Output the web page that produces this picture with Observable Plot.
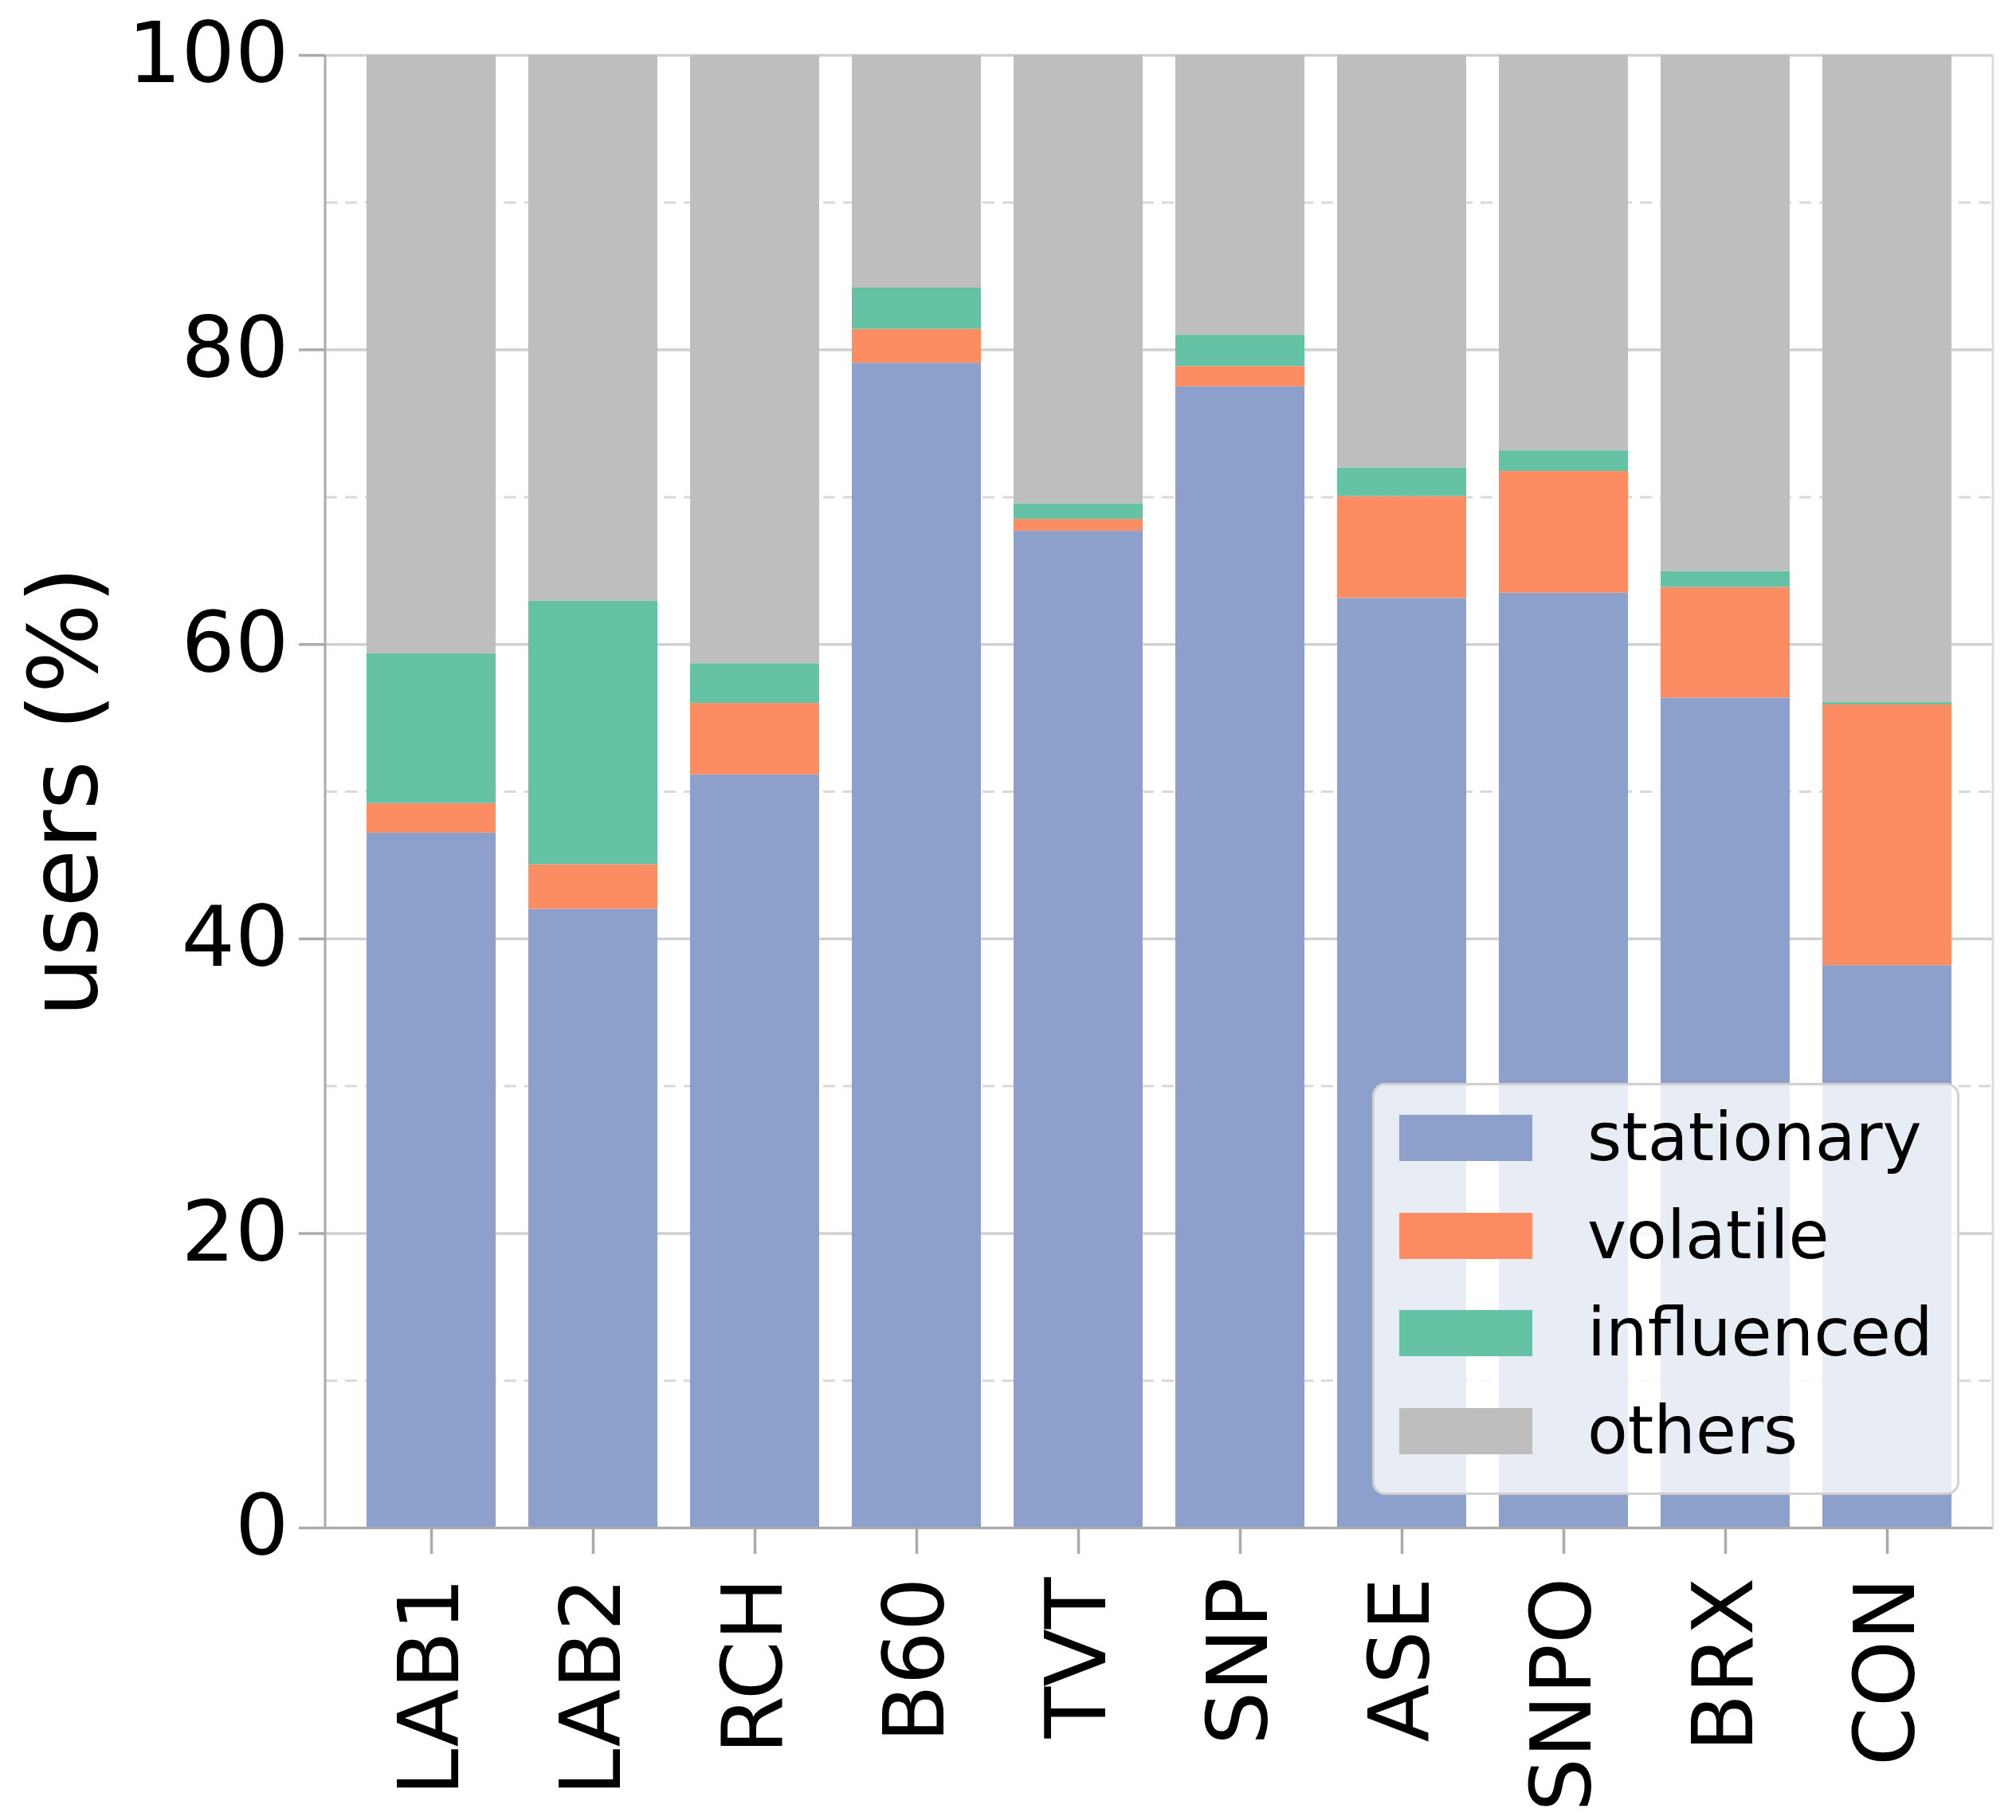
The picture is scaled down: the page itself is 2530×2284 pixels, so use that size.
<!DOCTYPE html>
<html>
<head>
<meta charset="utf-8">
<script src="https://cdn.jsdelivr.net/npm/d3@7"></script>
<script src="https://cdn.jsdelivr.net/npm/@observablehq/plot@0.6"></script>
<style>
  html, body { margin: 0; padding: 0; background: #fff; }
  #wrap { position: relative; width: 2530px; height: 2284px; font-family: "DejaVu Sans", sans-serif; }
  #legend {
    position: absolute; left: 1722px; top: 1359px; width: 731px; height: 511px;
    background: rgba(255,255,255,0.8); border: 3px solid #d0d0d0; border-radius: 16px;
  }
  .row { position: absolute; left: 31px; height: 58px; }
  .sw { position: absolute; left: 0; top: 0; width: 167px; height: 58px; }
  .lbl { position: absolute; left: 236px; top: 0; font-size: 83px; line-height: 58px; white-space: nowrap; color: #000; }
</style>
</head>
<body>
<div id="wrap"></div>
<script>
const categories = ["LAB1", "LAB2", "RCH", "B60", "TVT", "SNP", "ASE", "SNPO", "BRX", "CON"];
const seriesNames = ["stationary", "volatile", "influenced", "others"];
const stationary = [47.2, 42.02, 51.15, 79.1, 67.7, 77.5, 63.13, 63.49, 56.36, 38.19];
const volatile   = [2.0, 3.02, 4.85, 2.3, 0.8, 1.38, 6.91, 8.26, 7.51, 17.71];
const influenced = [10.17, 17.91, 2.7, 2.8, 1.06, 2.12, 1.96, 1.4, 1.09, 0.18];
const others     = [40.63, 37.05, 41.3, 15.8, 30.44, 19.0, 28.0, 26.85, 35.04, 43.92];
const seriesColors = ["#8da0cb", "#fc8d62", "#66c2a5", "#bebebe"];
const yTicks = [0, 20, 40, 60, 80, 100];
const yMinorTicks = [10, 30, 50, 70, 90];
const yLabel = "users (%)";

const seriesValues = [stationary, volatile, influenced, others];
const data = seriesNames.flatMap((s, si) =>
  categories.map((c, i) => ({category: c, series: s, value: seriesValues[si][i]}))
);

const spines = (index, scales, values, dims) => {
  const g = d3.create("svg:g");
  const x0 = dims.marginLeft, x1 = dims.width - dims.marginRight;
  const y0 = dims.marginTop, y1 = dims.height - dims.marginBottom;
  g.append("line").attr("x1", x1).attr("x2", x1).attr("y1", y0).attr("y2", y1)
    .attr("stroke", "#dedede").attr("stroke-width", 3);
  g.append("line").attr("x1", x0).attr("x2", x0).attr("y1", y0).attr("y2", y1 + 1.5)
    .attr("stroke", "#aaaaaa").attr("stroke-width", 3);
  return g.node();
};

const chart = Plot.plot({
  width: 2530,
  height: 2284,
  marginTop: 69,
  marginBottom: 367,
  marginLeft: 408,
  marginRight: 29,
  style: {fontFamily: "DejaVu Sans", fontSize: "106px", color: "#000", background: "#fff"},
  x: {domain: categories, paddingInner: 0.2, paddingOuter: 0.255, label: null},
  y: {domain: [0, 100], label: null},
  color: {domain: seriesNames, range: seriesColors},
  marks: [
    Plot.ruleY(yMinorTicks, {stroke: "#d9d9d9", strokeWidth: 3, strokeDasharray: "15,10"}),
    Plot.gridY(yTicks, {stroke: "#d0d0d0", strokeOpacity: 1, strokeWidth: 3.5}),
    Plot.barY(data, {x: "category", y: "value", fill: "series", inset: 0}),
    Plot.ruleY([0], {stroke: "#aaaaaa", strokeWidth: 3}),
    spines,
    Plot.axisY(yTicks, {tickSize: 33, tickPadding: 13, fontSize: 106, stroke: "#aaaaaa", strokeWidth: 3.5, fill: "#000", label: null}),
    Plot.axisX({tickSize: 33, tickPadding: 29, tickRotate: -90, fontSize: 106, stroke: "#aaaaaa", strokeWidth: 3.5, fill: "#000", label: null}),
    Plot.text([yLabel], {frameAnchor: "left", dx: -326, rotate: -90, fontSize: 119, fill: "#000", textAnchor: "middle", lineAnchor: "middle"})
  ]
});

const wrap = document.getElementById("wrap");
wrap.appendChild(chart);

const legend = document.createElement("div");
legend.id = "legend";
seriesNames.forEach((s, i) => {
  const row = document.createElement("div");
  row.className = "row";
  row.style.top = (37 + i * 122.7) + "px";
  const sw = document.createElement("div");
  sw.className = "sw";
  sw.style.background = seriesColors[i];
  const lbl = document.createElement("div");
  lbl.className = "lbl";
  lbl.textContent = s;
  row.appendChild(sw);
  row.appendChild(lbl);
  legend.appendChild(row);
});
wrap.appendChild(legend);
</script>
</body>
</html>
